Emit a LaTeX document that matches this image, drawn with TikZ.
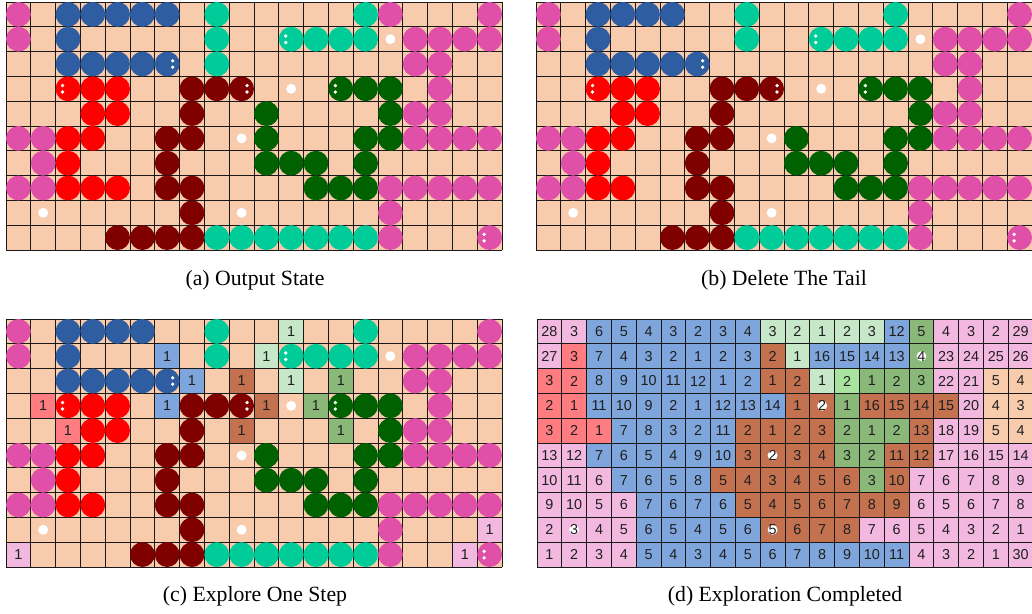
\documentclass[tikz,border=0pt]{standalone}
\usepackage{fontspec}
\setmainfont{Liberation Serif}
\newfontfamily\numfont{Liberation Sans}
\definecolor{peach}{HTML}{F8CBAD}
\definecolor{snBlue}{HTML}{2F5DA2}
\definecolor{snRed}{HTML}{FF0000}
\definecolor{snDRed}{HTML}{800000}
\definecolor{snTeal}{HTML}{00CC99}
\definecolor{snGreen}{HTML}{006100}
\definecolor{snPink}{HTML}{E050A8}
\definecolor{dB}{HTML}{7FA6DC}
\definecolor{dR}{HTML}{FF7C80}
\definecolor{dN}{HTML}{C47150}
\definecolor{dG}{HTML}{C6E8C9}
\definecolor{dM}{HTML}{8AB878}
\definecolor{dL}{HTML}{A8E4A0}
\definecolor{dP}{HTML}{F3B8E0}
\definecolor{dO}{HTML}{F8CBAD}
\pgfdeclarelayer{cells}
\pgfsetlayers{cells,main}
\tikzset{
  gridln/.style={draw=black!90, line width=0.6pt},
  numtxt/.style={inner sep=0pt, font=\numfont\fontsize{10.8}{12}\selectfont, text=black!88},
  captxt/.style={inner sep=0pt, anchor=base, font=\fontsize{16.3}{19}\selectfont},
  panelunits/.style={x=18.6pt, y=-18.6pt},
}
\newcommand\mySnk[3]{\fill[#1] (#2+0.5,#3+0.5) circle[radius=0.5];}
\newcommand\myEyes[2]{\fill[white] (#1,#2+0.37) circle[radius=0.075] (#1,#2+0.63) circle[radius=0.075];}
\newcommand\myFood[2]{\fill[white] (#1+0.5,#2+0.5) circle[radius=0.2];}
\newcommand\myGrid{%
  \foreach \i in {0,...,20}{\draw[gridln] (\i,0) -- (\i,10);}
  \foreach \j in {0,...,10}{\draw[gridln] (0,\j) -- (20,\j);}}
\newcommand\myExtra{%
  \mySnk{snBlue}{6}{0}\mySnk{snRed}{4}{7}\mySnk{snDRed}{4}{9}%
  \mySnk{snTeal}{8}{2}\mySnk{snGreen}{10}{4}\mySnk{snPink}{15}{0}}
\newcommand\myState{%
  \foreach \c/\r in {2/0,3/0,4/0,5/0,2/1,2/2,3/2,4/2,5/2,6/2}{\mySnk{snBlue}{\c}{\r}}
  \foreach \c/\r in {2/3,3/3,4/3,3/4,4/4,2/5,3/5,2/6,2/7,3/7}{\mySnk{snRed}{\c}{\r}}
  \foreach \c/\r in {7/3,8/3,9/3,7/4,6/5,7/5,6/6,6/7,7/7,7/8,5/9,6/9,7/9}{\mySnk{snDRed}{\c}{\r}}
  \foreach \c/\r in {8/0,8/1,14/0,11/1,12/1,13/1,14/1,8/9,9/9,10/9,11/9,12/9,13/9,14/9}{\mySnk{snTeal}{\c}{\r}}
  \foreach \c/\r in {13/3,14/3,15/3,15/4,14/5,15/5,14/6,10/5,10/6,11/6,12/6,12/7,13/7,14/7}{\mySnk{snGreen}{\c}{\r}}
  \foreach \c/\r in {0/0,0/1,0/5,1/5,1/6,0/7,1/7,19/0,16/1,17/1,18/1,19/1,16/2,17/2,17/3,16/4,17/4,16/5,17/5,18/5,19/5,15/7,16/7,17/7,18/7,19/7,15/8,15/9,19/9}{\mySnk{snPink}{\c}{\r}}
  \myEyes{6.72}{2}\myEyes{2.28}{3}\myEyes{9.72}{3}\myEyes{11.28}{1}\myEyes{13.28}{3}\myEyes{19.28}{9}
  \myFood{15}{1}\myFood{11}{3}\myFood{9}{5}\myFood{1}{8}\myFood{9}{8}}
\newcommand\dRow[2]{%
  \foreach [count=\cc from 0] \k/\n in {#2}{%
    \begin{pgfonlayer}{cells}\fill[d\k] (\cc,#1) rectangle ++(1,1);\end{pgfonlayer}
    \node[numtxt] (d-\cc-#1) at (\cc+0.5,#1+0.5) {\n};}}
\begin{document}
\begin{tikzpicture}[x=0.75pt,y=-0.75pt]
\useasboundingbox (0,0) rectangle (1032,614);
% (a)
\begin{scope}[shift={(4.5pt,-1.5pt)},panelunits]
  \fill[peach] (0,0) rectangle (20,10);
  \myGrid
  \myExtra
  \myState
\end{scope}
% (b)
\begin{scope}[shift={(402pt,-1.5pt)},panelunits]
  \fill[peach] (0,0) rectangle (20,10);
  \myGrid
  \myState
\end{scope}
% (c)
\begin{scope}[shift={(4.5pt,-239.25pt)},panelunits]
  \fill[peach] (0,0) rectangle (20,10);
  \foreach \col/\c/\r in {dB/6/1,dB/7/2,dB/6/3,dR/1/3,dR/2/4,dN/9/2,dN/9/4,dN/10/3,dG/11/0,dG/10/1,dG/11/2,dM/13/2,dM/12/3,dM/13/4,dP/0/9,dP/19/8,dP/18/9}{
    \fill[\col] (\c,\r) rectangle ++(1,1);
    \node[numtxt] (c-\c-\r) at (\c+0.5,\r+0.5) {1};}
  \myGrid
  \myState
\end{scope}
% (d)
\begin{scope}[shift={(402.75pt,-239.25pt)},panelunits]
  \dRow{0}{P/28,P/3,B/6,B/5,B/4,B/3,B/2,B/3,B/4,G/3,G/2,G/1,G/2,G/3,B/12,M/5,P/4,P/3,P/2,P/29}
  \dRow{1}{P/27,R/3,B/7,B/4,B/3,B/2,B/1,B/2,B/3,N/2,G/1,B/16,B/15,B/14,B/13,M/4,P/23,P/24,P/25,P/26}
  \dRow{2}{R/3,R/2,B/8,B/9,B/10,B/11,B/12,B/1,B/2,N/1,N/2,G/1,L/2,M/1,M/2,M/3,P/22,P/21,O/5,O/4}
  \dRow{3}{R/2,R/1,B/11,B/10,B/9,B/2,B/1,B/12,B/13,B/14,N/1,N/2,M/1,N/16,N/15,N/14,N/15,P/20,O/4,O/3}
  \dRow{4}{R/3,R/2,R/1,B/7,B/8,B/3,B/2,B/11,N/2,N/1,N/2,N/3,M/2,M/1,M/2,N/13,P/18,P/19,O/5,O/4}
  \dRow{5}{P/13,P/12,B/7,B/6,B/5,B/4,B/9,B/10,N/3,N/2,N/3,N/4,M/3,M/2,N/11,N/12,P/17,P/16,P/15,P/14}
  \dRow{6}{P/10,P/11,P/6,B/7,B/6,B/5,B/8,N/5,N/4,N/3,N/4,N/5,N/6,M/3,N/10,P/7,P/6,P/7,P/8,P/9}
  \dRow{7}{P/9,P/10,P/5,P/6,B/7,B/6,B/7,B/6,N/5,N/4,N/5,N/6,N/7,N/8,N/9,P/6,P/5,P/6,P/7,P/8}
  \dRow{8}{P/2,P/3,P/4,P/5,B/6,B/5,B/4,B/5,B/6,N/5,N/6,N/7,N/8,P/7,P/6,P/5,P/4,P/3,P/2,P/1}
  \dRow{9}{P/1,P/2,P/3,P/4,B/5,B/4,B/3,B/4,B/5,B/6,B/7,B/8,B/9,B/10,B/11,P/4,P/3,P/2,P/1,P/30}
  \begin{pgfonlayer}{cells}
    \myGrid
    \myFood{15}{1}\myFood{11}{3}\myFood{9}{5}\myFood{1}{8}\myFood{9}{8}
  \end{pgfonlayer}
\end{scope}
% captions
\node[captxt] (capA) at (255,285) {(a) Output State};
\node[captxt] (capB) at (784,285) {(b) Delete The Tail};
\node[captxt] (capC) at (255,601) {(c) Explore One Step};
\node[captxt] (capD) at (785,601) {(d) Exploration Completed};
\end{tikzpicture}
\end{document}
